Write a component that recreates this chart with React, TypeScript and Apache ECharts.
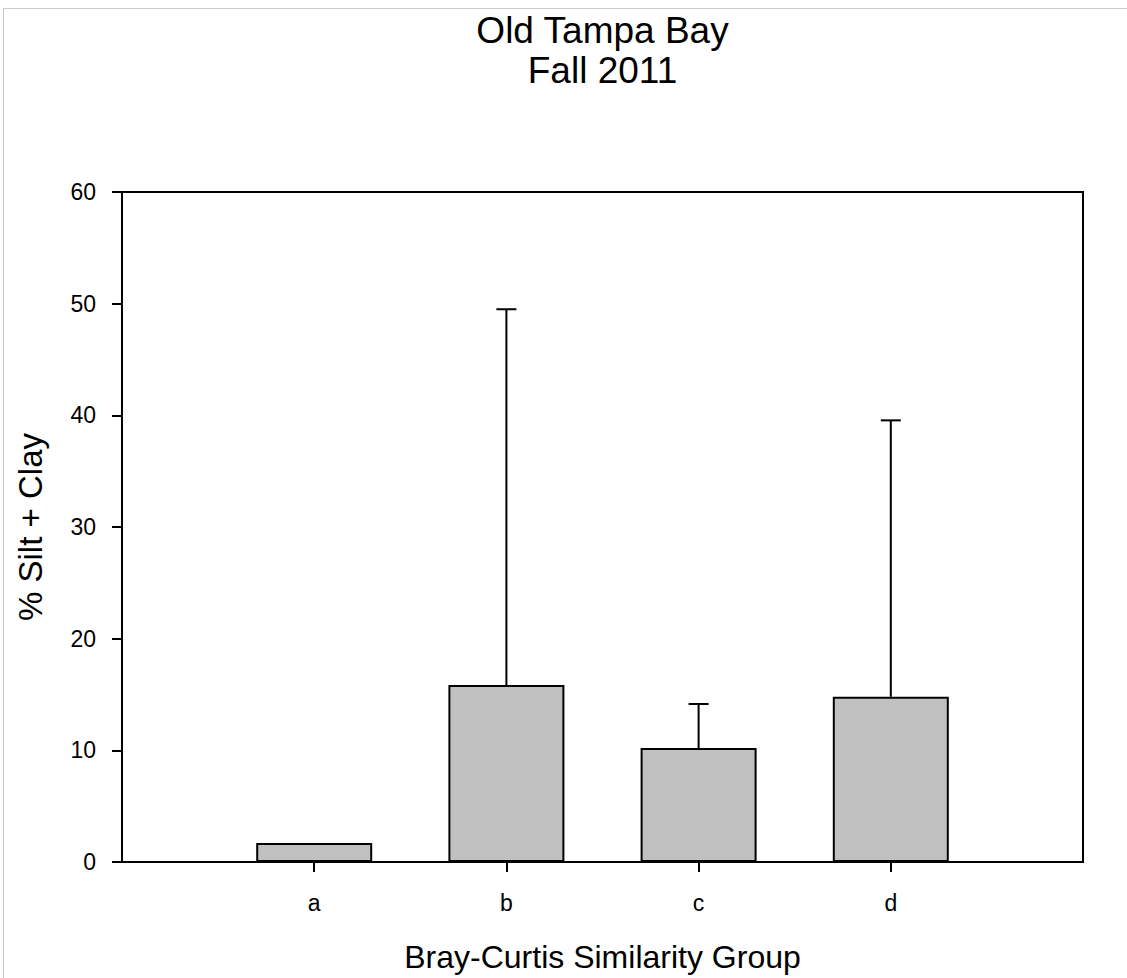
import React, { useEffect, useRef } from "react";
import * as echarts from "echarts";

const categories = ["a", "b", "c", "d"];
const positions = [1, 2, 3, 4];
const means = [1.7, 15.85, 10.2, 14.8];
const upper = [null, 49.5, 14.15, 39.55];
const yTicks = [0, 10, 20, 30, 40, 50, 60];
const titleLines = ["Old Tampa Bay", "Fall 2011"];

const FONT = "'Liberation Sans', Arial, sans-serif";

export default function App() {
  const ref = useRef<HTMLDivElement>(null);
  useEffect(() => {
    document.body.style.margin = "0";
    if (!ref.current) return;
    const chart = echarts.init(ref.current, undefined, { renderer: "svg" });
    const barData = positions.map((p, i) => [p, means[i]]);
    const errData = positions
      .map((p, i) => [p, means[i], upper[i]])
      .filter((d) => d[2] !== null);
    chart.setOption({
      animation: false,
      backgroundColor: "#ffffff",
      graphic: [
        {
          type: "line",
          shape: { x1: 3.5, y1: 8.5, x2: 1127, y2: 8.5 },
          style: { stroke: "#c8c8c8", lineWidth: 1 },
          silent: true,
        },
        {
          type: "line",
          shape: { x1: 3.5, y1: 8.5, x2: 3.5, y2: 978 },
          style: { stroke: "#c8c8c8", lineWidth: 1 },
          silent: true,
        },
        {
          type: "text",
          x: 602.5,
          y: 10,
          silent: true,
          style: {
            text: titleLines.join("\n"),
            fontFamily: FONT,
            fontSize: 37,
            lineHeight: 40,
            fill: "#000",
            textAlign: "center",
            textVerticalAlign: "top",
          },
        },
      ],
      grid: {
        left: 122,
        right: 44,
        top: 192,
        bottom: 115,
        show: true,
        borderColor: "#000",
        borderWidth: 2,
        backgroundColor: "transparent",
      },
      xAxis: {
        type: "value",
        min: 0,
        max: 5,
        interval: 1,
        name: "Bray-Curtis Similarity Group",
        nameLocation: "middle",
        nameGap: 79,
        nameTextStyle: { fontFamily: FONT, fontSize: 32, color: "#000" },
        splitLine: { show: false },
        axisLine: { show: true, lineStyle: { color: "#000", width: 2 } },
        axisTick: {
          show: true,
          inside: false,
          length: 10,
          customValues: positions,
          lineStyle: { color: "#000", width: 2 },
        },
        axisLabel: {
          customValues: positions,
          margin: 29,
          fontFamily: FONT,
          fontSize: 23,
          color: "#000",
          formatter: (v: number) => {
            const idx = positions.indexOf(v);
            return idx >= 0 ? categories[idx] : "";
          },
        },
      },
      yAxis: {
        type: "value",
        min: yTicks[0],
        max: yTicks[yTicks.length - 1],
        interval: 10,
        name: "% Silt + Clay",
        nameLocation: "middle",
        nameGap: 75,
        nameRotate: 90,
        nameTextStyle: { fontFamily: FONT, fontSize: 33, color: "#000" },
        splitLine: { show: false },
        axisLine: { show: true, lineStyle: { color: "#000", width: 2 } },
        axisTick: {
          show: true,
          inside: false,
          length: 10,
          lineStyle: { color: "#000", width: 2 },
        },
        axisLabel: {
          margin: 26,
          fontFamily: FONT,
          fontSize: 23,
          color: "#000",
        },
      },
      series: [
        {
          type: "bar",
          data: barData,
          barWidth: 116,
          itemStyle: { color: "#c0c0c0", borderColor: "#000", borderWidth: 2 },
          z: 2,
        },
        {
          type: "custom",
          data: errData,
          z: 3,
          renderItem: (params: any, api: any) => {
            const x = api.value(0);
            const lo = api.coord([x, api.value(1)]);
            const hi = api.coord([x, api.value(2)]);
            const half = 10;
            return {
              type: "group",
              children: [
                {
                  type: "line",
                  shape: { x1: lo[0], y1: lo[1], x2: hi[0], y2: hi[1] },
                  style: { stroke: "#000", lineWidth: 2 },
                },
                {
                  type: "line",
                  shape: { x1: hi[0] - half, y1: hi[1], x2: hi[0] + half, y2: hi[1] },
                  style: { stroke: "#000", lineWidth: 2 },
                },
              ],
            };
          },
        },
      ],
    });
    return () => chart.dispose();
  }, []);
  return <div ref={ref} style={{ width: 1127, height: 978 }} />;
}
